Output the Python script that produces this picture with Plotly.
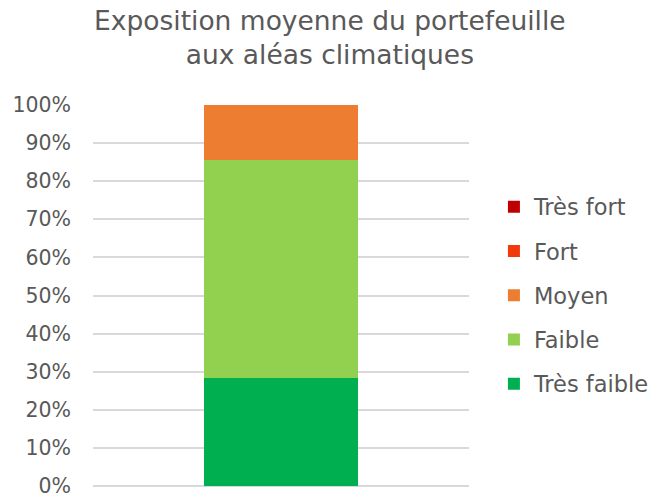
import plotly.graph_objects as go

categories = ["Portefeuille"]
series_names = ["Très faible", "Faible", "Moyen", "Fort", "Très fort"]
series_values = [[28.4], [57.1], [14.5], [0.0], [0.0]]
series_colors = ["#00B050", "#92D050", "#ED7D31", "#F2390C", "#C00000"]
y_ticks = [0, 10, 20, 30, 40, 50, 60, 70, 80, 90, 100]
y_tick_labels = [f"{v}%" for v in y_ticks]
title_text = "Exposition moyenne du portefeuille<br>aux aléas climatiques"

FONT = "DejaVu Sans"
TXT = "#595959"
GRID = "#D9D9D9"

fig = go.Figure()
n = len(series_names)
for i, (name, vals, col) in enumerate(zip(series_names, series_values, series_colors)):
    fig.add_trace(go.Bar(
        x=categories, y=vals, name=name, legendgroup=name,
        legendrank=1000 + (n - i),
        marker=dict(color=col, line=dict(width=0)),
    ))

fig.add_annotation(
    text=title_text, xref="paper", yref="paper",
    x=(330 - 93) / 376, y=(486 - 37.5) / 381,
    xanchor="center", yanchor="middle", showarrow=False,
    font=dict(family=FONT, size=26.5, color=TXT),
)

fig.update_layout(
    width=660, height=497,
    barmode="stack", bargap=0.59,
    paper_bgcolor="white", plot_bgcolor="white",
    margin=dict(l=93, r=191, t=105, b=11, autoexpand=False),
    font=dict(family=FONT, color=TXT, size=20),
    showlegend=True,
    legend=dict(
        traceorder="grouped", tracegroupgap=12,
        x=1.0663, xanchor="left", xref="paper",
        y=0.5, yanchor="middle",
        font=dict(family=FONT, size=22.5, color=TXT),
        itemwidth=30,
    ),
    xaxis=dict(showticklabels=False, showgrid=False, zeroline=False,
               showline=False, ticks=""),
    yaxis=dict(range=[0, 100], tickvals=y_ticks, ticktext=y_tick_labels,
               showgrid=True, gridcolor=GRID, gridwidth=1.5,
               zeroline=True, zerolinecolor=GRID, zerolinewidth=1.5,
               showline=False, ticks="",
               ticklabelstandoff=21, ticklabeloverflow="allow",
               tickfont=dict(family=FONT, size=20.5, color=TXT)),
)

fig.write_html("out.html")
